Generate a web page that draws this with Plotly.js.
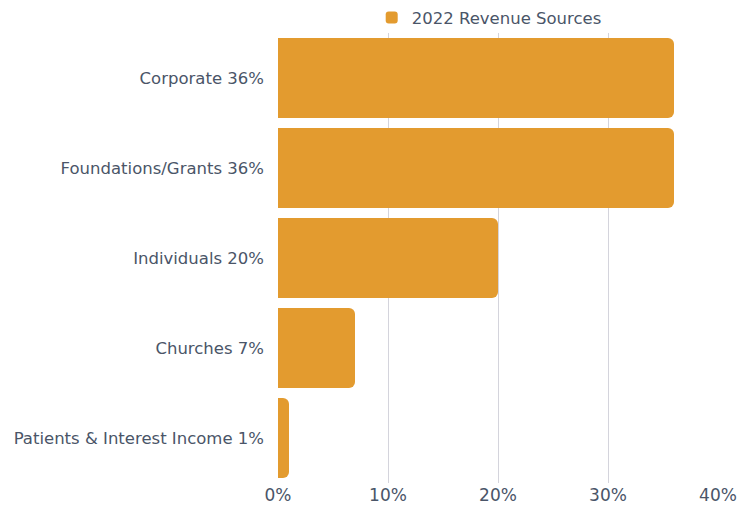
<!DOCTYPE html>
<html>
<head>
<meta charset="utf-8">
<script src="https://cdn.plot.ly/plotly-3.0.1.min.js"></script>
<style>html,body{margin:0;padding:0;background:#fff}#chart{width:738px;height:505px}</style>
</head>
<body>
<div id="chart"></div>
<script>
const categories = ["Corporate 36%", "Foundations/Grants 36%", "Individuals 20%", "Churches 7%", "Patients & Interest Income 1%"];
const values = [36, 36, 20, 7, 1];
const seriesName = "2022 Revenue Sources";
const tickVals = [0, 10, 20, 30, 40];
const tickText = ["0%", "10%", "20%", "30%", "40%"];

const textColor = "#4a5568";
const fontFam = "DejaVu Sans, sans-serif";

Plotly.newPlot("chart", [{
  type: "bar",
  orientation: "h",
  y: categories,
  x: values,
  name: seriesName,
  marker: {color: "#e39b2f", cornerradius: 6},
  hoverinfo: "skip",
  showlegend: true
}], {
  width: 738, height: 505,
  margin: {l: 278, r: 20, t: 33, b: 22, autoexpand: false},
  paper_bgcolor: "#fff",
  plot_bgcolor: "#fff",
  bargap: 0.111,
  font: {family: fontFam, color: textColor, size: 16.5},
  showlegend: true,
  legend: {orientation: "h", x: 0.48, xanchor: "center", y: 0.995, yanchor: "bottom",
           font: {size: 16.5, color: textColor}, itemwidth: 30, bgcolor: "rgba(0,0,0,0)"},
  xaxis: {range: [0, 40], tickvals: tickVals, ticktext: tickText,
          showgrid: true, gridcolor: "#d4d4dc", gridwidth: 1, zeroline: false,
          showline: false, ticks: "", tickfont: {size: 17, color: textColor}, fixedrange: true},
  yaxis: {categoryorder: "array", categoryarray: categories, autorange: "reversed",
          showgrid: false, zeroline: false, showline: false, ticks: "",
          ticklabelstandoff: 13, tickfont: {size: 16.5, color: textColor}, fixedrange: true}
}, {displayModeBar: false, staticPlot: true});
</script>
</body>
</html>
